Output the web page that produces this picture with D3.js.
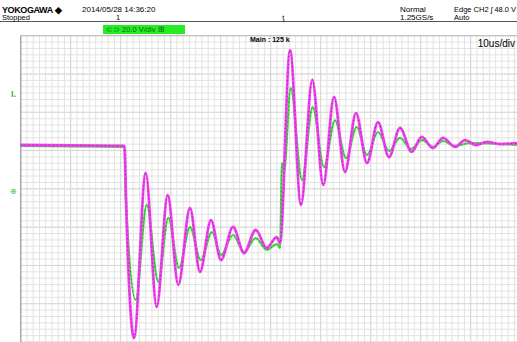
<!DOCTYPE html>
<html>
<head>
<meta charset="utf-8">
<script src="https://cdn.jsdelivr.net/npm/d3@7"></script>
<style>
  body { margin: 0; background: #fff; }
  svg { display: block; font-family: 'Liberation Sans', Arial, sans-serif; }
</style>
</head>
<body>
<script>
// scope screen: 10 div x 10us, 8 div x 20 V
let width = 517
let height = 342

// magenta trace (time in us, volts)
let magentaT = [0, 20.76, 21.06, 22.66, 25.0, 27.2, 29.4, 31.52, 33.86, 35.86, 38.06, 40.06, 42.46, 44.66, 47.0, 49.2, 51.2, 51.86,
  53.86, 56.06, 58.32, 60.52, 62.66, 64.86, 67.06, 69.26, 71.46, 73.66, 75.86, 78.2, 80.2, 82.46, 84.46, 86.86, 88.86, 91.06, 93.26, 95.86, 100]
let magentaV = [22.9, 22.4, -5.8, -77.9, 8.3, -61.7, -3.2, -50.2, -10.0, -43.4, -16.3, -37.2, -19.9, -33.5, -21.5, -30.9, -25.2, -28.3,
  72.5, -8.4, 56.9, 2.0, 48.0, 8.8, 39.6, 13.5, 34.9, 16.6, 31.8, 19.3, 27.1, 21.3, 26.6, 21.9, 25.5, 22.9, 24.5, 23.4, 24.0]

// green trace
let greenT = [0, 20.76, 21.06, 23.0, 25.2, 27.52, 29.52, 31.66, 33.86, 36.0, 38.26, 40.06, 42.46, 44.66, 47.0, 49.2, 51.26, 51.86,
  52.26, 52.66, 54.0, 56.26, 58.4, 60.66, 62.86, 65.06, 67.2, 69.26, 71.46, 73.66, 75.86, 78.06, 80.26, 82.46, 84.46, 86.86, 89.86, 100]
let greenV = [22.4, 21.9, -5.8, -58.1, -8.4, -48.6, -15.1, -41.3, -20.0, -37.2, -22.6, -34.6, -24.1, -33.0, -25.7, -31.9, -28.8, -30.9,
  13.5, 8.8, 52.7, 4.6, 42.7, 11.4, 35.8, 16.1, 32.3, 17.7, 29.7, 19.8, 26.6, 20.8, 25.5, 21.9, 25.0, 22.4, 23.9, 22.9]

let headerLeft = ['YOKOGAWA \u25C6', 'Stopped']
let headerDate = '2014/05/28 14:36:20'
let headerRight = [['Normal', '1.25GS/s'], ['Edge CH2 \u0283 48.0 V', 'Auto']]

let svg = d3.select('body').append('svg')
  .attr('width', width)
  .attr('height', height)

// plot area
let plotLeft = 20.7
let plotTop = 35.7
let x = d3.scaleLinear().domain([0, 100]).range([plotLeft, plotLeft + 500])
let y = d3.scaleLinear().domain([-80, 80]).range([height, plotTop])

// minor grid
let minorX = d3.range(0, 100.01, 10 / 8)
let minorY = d3.range(-80, 80.01, 20 / 6)
svg.append('g').selectAll('line').data(minorX).join('line')
  .attr('x1', d => x(d)).attr('x2', d => x(d))
  .attr('y1', plotTop).attr('y2', height)
  .attr('stroke', '#e3e3e3').attr('stroke-width', 1)
svg.append('g').selectAll('line').data(minorY).join('line')
  .attr('x1', plotLeft).attr('x2', width)
  .attr('y1', d => y(d)).attr('y2', d => y(d))
  .attr('stroke', '#e3e3e3').attr('stroke-width', 1)
// major grid
svg.append('g').selectAll('line').data(d3.range(0, 101, 10)).join('line')
  .attr('x1', d => x(d)).attr('x2', d => x(d))
  .attr('y1', plotTop).attr('y2', height)
  .attr('stroke', '#d0d0d0').attr('stroke-dasharray', '2,1')
svg.append('g').selectAll('line').data(d3.range(-80, 81, 20)).join('line')
  .attr('x1', plotLeft).attr('x2', width)
  .attr('y1', d => y(d)).attr('y2', d => y(d))
  .attr('stroke', '#d0d0d0').attr('stroke-dasharray', '2,1')

// frame
svg.append('line').attr('x1', plotLeft).attr('x2', plotLeft).attr('y1', plotTop).attr('y2', height)
  .attr('stroke', '#aaa').attr('stroke-width', 1.5)
svg.append('line').attr('x1', plotLeft).attr('x2', width).attr('y1', plotTop).attr('y2', plotTop)
  .attr('stroke', '#bbb').attr('stroke-width', 1)

// header
svg.append('line').attr('x1', 0).attr('x2', width).attr('y1', 21.5).attr('y2', 21.5)
  .attr('stroke', '#555').attr('stroke-width', 1)
svg.append('text').attr('x', 2).attr('y', 12.5).attr('font-size', 9).attr('font-weight', 'bold')
  .attr('letter-spacing', -0.4).text(headerLeft[0])
svg.append('text').attr('x', 2).attr('y', 20).attr('font-size', 7.5).text(headerLeft[1])
svg.append('text').attr('x', 82).attr('y', 12).attr('font-size', 8).text(headerDate)
svg.append('text').attr('x', 116).attr('y', 20).attr('font-size', 7.5).text('1')
headerRight.forEach((col, i) => {
  svg.append('text').attr('x', [400, 454][i]).attr('y', 12).attr('font-size', [8, 7.5][i]).text(col[0])
  svg.append('text').attr('x', [400, 454][i]).attr('y', 20).attr('font-size', [8, 7.5][i]).text(col[1])
})
// trigger position mark
svg.append('text').attr('x', x(52.5)).attr('y', 20).attr('font-size', 7.5)
  .attr('text-anchor', 'middle').text('\u01AB')

// channel label box
svg.append('rect').attr('x', 103).attr('y', 25).attr('width', 82).attr('height', 9).attr('fill', '#22ee22')
svg.append('text').attr('x', 106).attr('y', 32.3).attr('font-size', 7.5).attr('fill', '#116611')
  .text('\u2282\u2283 20.0 V/div \u229E')

svg.append('text').attr('x', 250).attr('y', 42).attr('font-size', 7).attr('font-weight', 'bold')
  .text('Main : 125 k')
svg.append('text').attr('x', 515).attr('y', 47).attr('font-size', 10).attr('text-anchor', 'end')
  .text('10us/div')

// channel markers on the left
svg.append('text').attr('x', 11).attr('y', 97).attr('font-size', 9).attr('font-weight', 'bold')
  .attr('fill', '#33bb33').text('I.')
svg.append('text').attr('x', 10).attr('y', 194).attr('font-size', 8)
  .attr('fill', '#33bb33').text('\u2295')

// traces
let line = d3.line().x(d => x(d[0])).y(d => y(d[1])).curve(d3.curveMonotoneX)
let green = d3.zip(greenT, greenV)
let magenta = d3.zip(magentaT, magentaV)

svg.append('path').attr('d', line(green)).attr('fill', 'none')
  .attr('stroke', '#3fdd3f').attr('stroke-width', 2.2)
svg.append('path').attr('d', line(green)).attr('fill', 'none')
  .attr('stroke', '#1f6f1f').attr('stroke-width', 0.8).attr('stroke-dasharray', '1,3')
svg.append('path').attr('d', line(magenta)).attr('fill', 'none')
  .attr('stroke', '#f040f0').attr('stroke-width', 2.8)
svg.append('path').attr('d', line(magenta)).attr('fill', 'none')
  .attr('stroke', '#7a1a7a').attr('stroke-width', 0.8).attr('stroke-dasharray', '1,3')
</script>
</body>
</html>
